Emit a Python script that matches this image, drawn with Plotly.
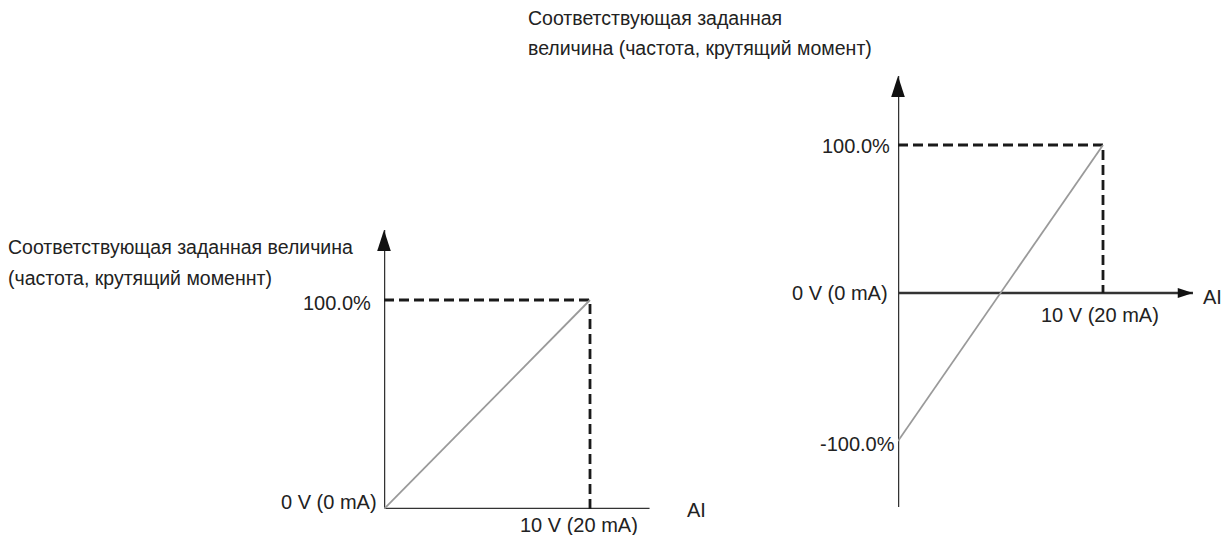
import plotly.graph_objects as go

# --- data -------------------------------------------------------------
ai_input = [0, 10]                 # analog input, V (0..10 V / 0..20 mA)
setting_unipolar = [0.0, 100.0]    # corresponding setting, %, left graph
setting_bipolar = [-100.0, 100.0]  # corresponding setting, %, right graph

tick_in_min = "0 V (0 mA)"
tick_in_max = "10 V (20 mA)"
tick_pct_max = "100.0%"
tick_pct_min = "-100.0%"
axis_x_name = "AI"
title_left = ["Соответствующая заданная величина", "(частота, крутящий моменнт)"]
title_right = ["Соответствующая заданная", "величина (частота, крутящий момент)"]

# --- page geometry ----------------------------------------------------
W, H = 1225, 535
FONT = "Liberation Sans, Arial, sans-serif"
TXT = "#222222"
AXC = "#333333"
LABEL_SIZE = 20
TITLE_SIZE = 19.5

# panel frames: origin pixel, pixels per volt, pixels per percent, axis extents
panels = {
    "left": dict(ox=384, oy=509, sx=20.6, sy=2.09, xmax=12.9, ymin=0.0, ymax=133.5),
    "right": dict(ox=898, oy=293, sx=20.5, sy=1.48, xmax=14.39, ymin=-144.6, ymax=146.6),
}


def domains(p):
    x0 = p["ox"] / W
    x1 = (p["ox"] + p["xmax"] * p["sx"]) / W
    y0 = (H - p["oy"] + p["ymin"] * p["sy"]) / H
    y1 = (H - p["oy"] + p["ymax"] * p["sy"]) / H
    return [x0, x1], [y0, y1]


fig = go.Figure()
annotations = []


def text(x, y, s, xref, yref, xanchor, yanchor="middle", xshift=0, yshift=0, size=LABEL_SIZE):
    annotations.append(dict(
        x=x, y=y, xref=xref, yref=yref, text=s, showarrow=False,
        xanchor=xanchor, yanchor=yanchor, xshift=xshift, yshift=yshift,
        font=dict(family=FONT, size=size, color=TXT),
    ))


def arrowhead(x, y, angle, size, xa, ya):
    fig.add_trace(go.Scatter(
        x=[x], y=[y], mode="markers", xaxis=xa, yaxis=ya, cliponaxis=False,
        marker=dict(symbol="arrow", angle=angle, size=size, color="#111111",
                    line=dict(width=0)),
        hoverinfo="skip", showlegend=False))


def draw_panel(key, xa, ya, setting, x_arrow=False):
    p = panels[key]
    xd, yd = domains(p)
    xn = "xaxis" if xa == "x" else "xaxis" + xa[1:]
    yn = "yaxis" if ya == "y" else "yaxis" + ya[1:]
    fig.layout[xn] = dict(domain=xd, range=[0, p["xmax"]], visible=False, fixedrange=True,
                          anchor=ya)
    fig.layout[yn] = dict(domain=yd, range=[p["ymin"], p["ymax"]], visible=False,
                          fixedrange=True, anchor=xa)

    # coordinate axes
    fig.add_trace(go.Scatter(x=[0, 0], y=[p["ymin"], p["ymax"]], mode="lines",
                             line=dict(color=AXC, width=2.5), xaxis=xa, yaxis=ya,
                             cliponaxis=False, hoverinfo="skip", showlegend=False))
    fig.add_trace(go.Scatter(x=[0, p["xmax"]], y=[0, 0], mode="lines",
                             line=dict(color=AXC, width=2.5), xaxis=xa, yaxis=ya,
                             cliponaxis=False, hoverinfo="skip", showlegend=False))
    arrowhead(0, p["ymax"], 0, 22, xa, ya)
    if x_arrow:
        arrowhead(p["xmax"], 0, 90, 16, xa, ya)

    # dashed guides to the full-scale point
    fig.add_trace(go.Scatter(x=[0, ai_input[-1], ai_input[-1]],
                             y=[setting[-1], setting[-1], 0], mode="lines",
                             line=dict(color="#1a1a1a", width=2.8, dash="10px,5px"),
                             xaxis=xa, yaxis=ya, hoverinfo="skip", showlegend=False))
    # characteristic line
    fig.add_trace(go.Scatter(x=ai_input, y=setting, mode="lines",
                             line=dict(color="#9a9a9a", width=1.8),
                             xaxis=xa, yaxis=ya, hoverinfo="skip", showlegend=False))
    return p


# left graph: 0..10 V -> 0..100 %
pl = draw_panel("left", "x", "y", setting_unipolar)
text(0, setting_unipolar[-1], tick_pct_max, "x", "y", "right", xshift=-11, yshift=-3)
text(0, 0, tick_in_min, "x", "y", "right", xshift=-5, yshift=7)
text(ai_input[-1], 0, tick_in_max, "x", "y", "center", "middle", xshift=-11, yshift=-16)
text(pl["xmax"], 0, axis_x_name, "x", "y", "left", xshift=35, yshift=-1)
text(6 / W, (H - 247) / H, title_left[0], "paper", "paper", "left", size=TITLE_SIZE)
text(6 / W, (H - 278) / H, title_left[1], "paper", "paper", "left", size=TITLE_SIZE)

# right graph: 0..10 V -> -100..100 %
pr = draw_panel("right", "x2", "y2", setting_bipolar, x_arrow=True)
text(0, setting_bipolar[-1], tick_pct_max, "x2", "y2", "right", xshift=-6, yshift=-1)
text(0, setting_bipolar[0], tick_pct_min, "x2", "y2", "right", xshift=-1, yshift=-3)
text(0, 0, tick_in_min, "x2", "y2", "right", xshift=-8, yshift=0)
text(ai_input[-1], 0, tick_in_max, "x2", "y2", "center", "middle", xshift=-3, yshift=-22)
text(pr["xmax"], 0, axis_x_name, "x2", "y2", "left", xshift=8, yshift=-4)
text(526 / W, (H - 18) / H, title_right[0], "paper", "paper", "left", size=TITLE_SIZE)
text(526 / W, (H - 48) / H, title_right[1], "paper", "paper", "left", size=TITLE_SIZE)

fig.update_layout(
    width=W, height=H, autosize=False,
    margin=dict(l=0, r=0, t=0, b=0),
    paper_bgcolor="white", plot_bgcolor="white",
    showlegend=False, annotations=annotations,
)

fig.write_html("out.html", config={"displayModeBar": False})
